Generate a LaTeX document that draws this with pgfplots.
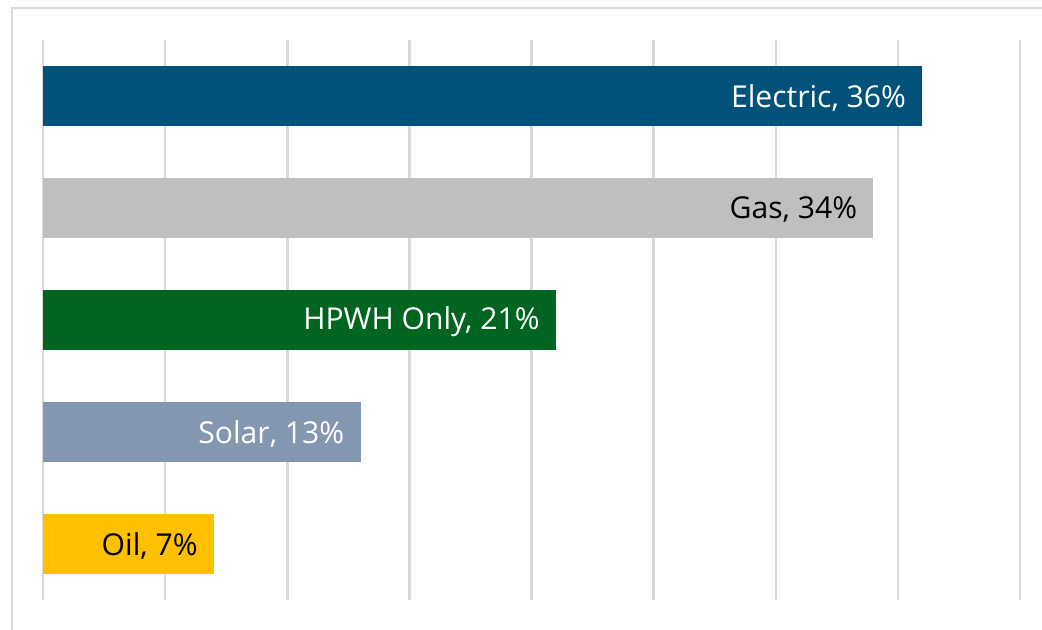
\documentclass[border=0pt]{standalone}
\usepackage{pgfplots}
\pgfplotsset{compat=1.18}
\usepackage{fontspec}
\setmainfont{Open Sans}
\definecolor{elec}{RGB}{0,82,122}
\definecolor{gas}{RGB}{191,191,191}
\definecolor{hpwh}{RGB}{0,101,32}
\definecolor{solar}{RGB}{132,151,176}
\definecolor{oil}{RGB}{255,192,0}
\definecolor{gridc}{RGB}{217,217,217}
\def\px{0.75pt}
\begin{document}
\begin{tikzpicture}
\path[use as bounding box] (0,0) rectangle (1042*\px,-629*\px);
\draw[gridc, line width=2*\px] (11.5*\px,-640*\px) -- (11.5*\px,-7.5*\px) -- (1050*\px,-7.5*\px);
\begin{axis}[
  at={(43*\px,-600*\px)}, anchor=south west,
  scale only axis, width=977*\px, height=560*\px,
  xmin=0, xmax=40, ymin=-0.5, ymax=4.5, y dir=reverse,
  xbar, bar width=60*\px, bar shift=0pt,
  axis lines=none,
  xtick={0,5,...,40}, ytick=\empty, xticklabels=\empty,
  xmajorgrids, grid style={gridc, line width=2.5*\px},
  major tick length=0pt,
  clip=false,
  nodes near coords style={anchor=east, xshift=-16*\px, yshift=-1.5*\px, font=\fontsize{22.6}{27}\selectfont, inner sep=0pt},
]
\foreach \v in {0,5,...,40} {\edef\temp{\noexpand\draw[gridc, line width=2.5*\px] (axis cs:\v,-0.5) -- (axis cs:\v,4.5);}\temp}
\addplot[fill=elec, draw=none, nodes near coords={Electric, 36\%}, nodes near coords style={text=white}] coordinates {(36,0)};
\addplot[fill=gas, draw=none, nodes near coords={Gas, 34\%}, nodes near coords style={text=black}] coordinates {(34,1)};
\addplot[fill=hpwh, draw=none, nodes near coords={HPWH Only, 21\%}, nodes near coords style={text=white}] coordinates {(21,2)};
\addplot[fill=solar, draw=none, nodes near coords={Solar, 13\%}, nodes near coords style={text=white}] coordinates {(13,3)};
\addplot[fill=oil, draw=none, nodes near coords={Oil, 7\%}, nodes near coords style={text=black}] coordinates {(7,4)};
\end{axis}
\end{tikzpicture}
\end{document}
